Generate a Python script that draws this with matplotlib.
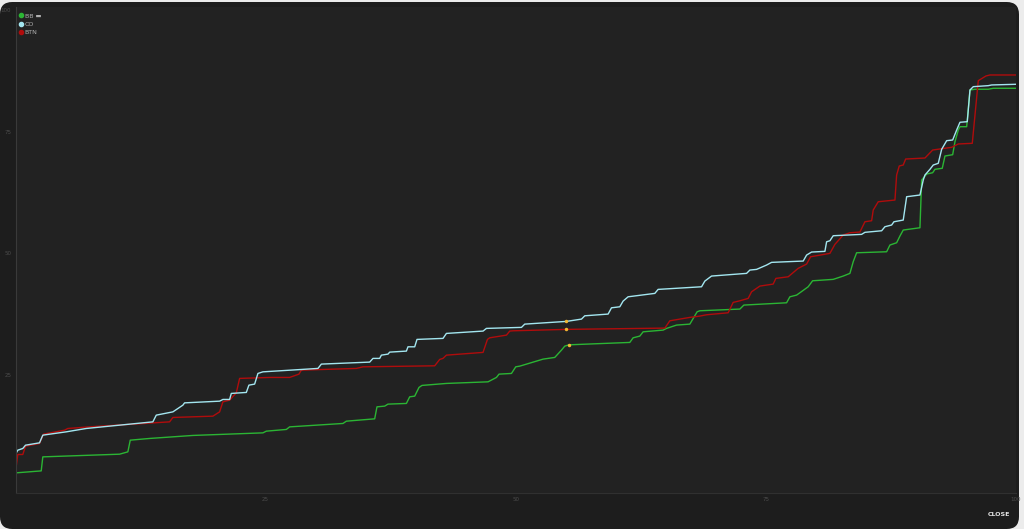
import matplotlib.pyplot as plt
from matplotlib.patches import FancyBboxPatch
from matplotlib.lines import Line2D

# cumulative curves (x in %, y in %)
co_x = [0, 0.05, 0.23, 0.73, 1.0, 2.4, 2.73, 5.07, 7.07, 9.4, 13.73, 14.07, 15.73, 16.73, 16.9, 20.4, 20.73, 21.4,
        21.57, 23.07, 23.33, 23.9, 24.23, 24.73, 26.4, 30.23, 30.57, 35.4, 35.73, 36.4, 36.57, 37.23, 37.4, 39.07,
        39.23, 39.9, 40.13, 42.73, 43.07, 46.73, 47.07, 50.57, 50.9, 55.07, 56.57, 56.9, 59.23, 59.57, 60.4, 60.73,
        61.23, 63.9, 64.23, 68.57, 68.9, 69.57, 73.07, 73.4, 74.07, 75.07, 75.57, 78.73, 79.07, 79.57, 80.9, 81.07,
        81.4, 81.73, 84.57, 84.9, 86.57, 86.9, 87.57, 87.8, 88.73, 89.07, 90.4, 90.73, 90.9, 91.4, 91.73, 92.23,
        92.57, 93.07, 93.67, 94.07, 94.4, 95.13, 95.4, 95.73, 97.23, 97.57, 100]
co_y = [5.14, 8.92, 9.6, 9.94, 10.62, 11.1, 12.68, 13.36, 14.05, 14.53, 15.41, 16.79, 17.46, 18.84, 19.31, 19.66,
        20.01, 20.01, 21.25, 21.45, 22.95, 23.16, 25.35, 25.68, 25.89, 26.38, 27.27, 27.68, 28.44, 28.44, 29.11,
        29.32, 29.73, 29.94, 30.82, 30.82, 32.34, 32.55, 33.57, 34.05, 34.6, 34.81, 35.48, 36.04, 36.51, 37.19,
        37.54, 38.83, 39.04, 40.21, 41.09, 41.79, 42.61, 43.15, 44.32, 45.35, 45.9, 46.58, 46.72, 47.61, 48.16,
        48.43, 49.66, 50.28, 50.42, 52.39, 52.6, 53.63, 53.91, 54.33, 54.65, 55.48, 55.83, 56.5, 56.85, 61.64,
        61.99, 65.07, 66.1, 67.27, 68.15, 68.5, 71.38, 73.15, 73.29, 75.34, 76.93, 77.05, 83.56, 84.24, 84.45,
        84.59, 84.73]

btn_x = [0, 0.23, 0.73, 1.0, 2.4, 2.8, 4.9, 5.23, 7.4, 15.4, 15.73, 19.73, 20.4, 20.73, 21.4, 22.07, 22.4, 25.4,
         27.4, 28.33, 28.57, 34.07, 34.73, 41.9, 42.4, 42.73, 43.07, 46.73, 47.17, 47.4, 49.07, 49.4, 49.73, 55.07,
         64.9, 65.4, 67.4, 68.4, 69.07, 71.23, 71.73, 72.4, 73.23, 73.57, 74.4, 75.73, 76.0, 77.23, 78.23, 79.07,
         79.47, 81.4, 81.9, 82.73, 83.4, 84.4, 84.9, 85.57, 85.73, 86.23, 87.9, 88.07, 88.33, 88.73, 88.97, 90.9,
         91.67, 93.57, 94.23, 95.63, 96.23, 97.0, 97.4, 100]
btn_y = [5.14, 8.71, 8.71, 10.42, 10.97, 12.88, 13.7, 14.05, 14.38, 15.41, 16.31, 16.58, 17.46, 19.52, 19.87,
         21.37, 24.33, 24.53, 24.53, 25.21, 26.03, 26.38, 26.71, 26.92, 28.23, 28.44, 29.11, 29.67, 32.34, 32.67,
         33.22, 34.05, 34.11, 34.4, 34.66, 36.16, 36.86, 37.13, 37.4, 37.81, 39.94, 40.27, 40.76, 42.12, 43.29,
         43.7, 44.87, 45.2, 46.93, 47.81, 49.31, 50.01, 51.86, 53.77, 54.24, 54.39, 56.5, 56.71, 58.91, 60.61,
         60.96, 66.1, 67.95, 68.15, 69.38, 69.59, 71.23, 71.79, 72.47, 72.61, 85.47, 86.44, 86.64, 86.64]

bb_x = [0, 2.57, 2.73, 10.4, 11.23, 11.47, 13.4, 17.73, 24.73, 25.07, 27.07, 27.4, 32.73, 33.07, 35.9, 36.13, 36.9,
        37.23, 39.07, 39.4, 39.9, 40.33, 40.63, 43.07, 47.23, 48.07, 48.33, 49.57, 50.0, 50.4, 52.73, 53.9, 54.57,
        54.9, 55.33, 61.4, 61.73, 62.4, 62.73, 64.73, 65.07, 66.07, 67.4, 68.13, 68.4, 72.4, 72.8, 77.07, 77.4,
        78.07, 78.4, 79.23, 79.67, 81.73, 82.73, 83.4, 83.73, 84.07, 87.07, 87.4, 88.07, 88.4, 88.73, 90.4, 90.57,
        91.07, 91.67, 91.9, 92.63, 92.9, 93.67, 93.9, 94.23, 94.4, 95.07, 95.4, 95.9, 97.23, 97.73, 100]
bb_y = [4.93, 5.34, 8.22, 8.77, 9.25, 11.65, 12.0, 12.62, 13.15, 13.5, 13.85, 14.38, 15.08, 15.55, 16.03, 18.49,
        18.64, 19.05, 19.19, 20.55, 20.69, 22.48, 22.89, 23.3, 23.63, 24.53, 25.21, 25.35, 26.71, 26.85, 28.29,
        28.64, 30.14, 30.96, 31.23, 31.72, 32.67, 33.02, 33.9, 34.25, 34.6, 35.28, 35.48, 38.01, 38.22, 38.57,
        39.39, 39.86, 41.09, 41.44, 41.92, 43.15, 44.38, 44.67, 45.35, 45.9, 48.29, 50.13, 50.34, 51.72, 52.19,
        53.57, 54.8, 55.27, 65.07, 66.3, 66.57, 67.27, 67.48, 70.0, 70.27, 72.94, 75.34, 76.02, 76.02, 83.56,
        83.71, 83.71, 83.91, 83.91]

# highlighted hover points
hover_x = [55.07, 55.07, 55.33]
hover_y = [36.04, 34.4, 31.23]

series = ['BB', 'CO', 'BTN']
colors = {'BB': '#2bb534', 'CO': '#a3e6f0', 'BTN': '#b00c0c'}
ticks = [25, 50, 75, 100]

fig = plt.figure(figsize=(10.24, 5.29), dpi=100, facecolor='#ececec')
card = FancyBboxPatch((0, 0), 1019 / 1024, 527 / 529, boxstyle='round,pad=0,rounding_size=0.012',
                      transform=fig.transFigure, facecolor='#1d1d1d', edgecolor='none',
                      mutation_aspect=1024 / 529, zorder=-10)
fig.patches.append(card)

ax = fig.add_axes([15.5 / 1024, 36 / 529, 1000.5 / 1024, 486 / 529])
ax.set_facecolor('#222222')

ax.plot(bb_x, bb_y, color=colors['BB'], lw=1.0)
ax.plot(btn_x, btn_y, color=colors['BTN'], lw=1.0)
ax.plot(co_x, co_y, color=colors['CO'], lw=1.0)
ax.plot(hover_x, hover_y, 'o', color='#f2b632', ms=2.5, mew=0)

ax.set_xlim(0, 100)
ax.set_ylim(0.8, 100.6)
ax.set_xticks(ticks)
ax.set_yticks(ticks)
ax.tick_params(length=0, labelsize=4, colors='#4c4c4c', pad=3)
for s in ['top', 'right']:
    ax.spines[s].set_visible(False)
ax.spines['left'].set_color('#3a3a3a')
ax.spines['bottom'].set_color('#303030')
ax.spines['left'].set_linewidth(0.8)
ax.spines['bottom'].set_linewidth(0.8)

handles = [Line2D([], [], marker='o', ls='', color=colors[s], ms=3) for s in series]
leg = ax.legend(handles, ['BB ▬', 'CO', 'BTN'], loc='upper left', bbox_to_anchor=(16 / 1024, 1 - 10 / 529),
                bbox_transform=fig.transFigure, frameon=False, fontsize=4.5, handlelength=0.6,
                handletextpad=0.3, labelspacing=0.45, borderpad=0)
for t in leg.get_texts():
    t.set_color('#b0b0b0')

fig.text(999 / 1024, 1 - 514 / 529, 'CLOSE', color='#e4e4e4', fontsize=4.5, fontweight='bold',
         ha='center', va='center')

fig.savefig('out.png', dpi=100, facecolor=fig.get_facecolor())
